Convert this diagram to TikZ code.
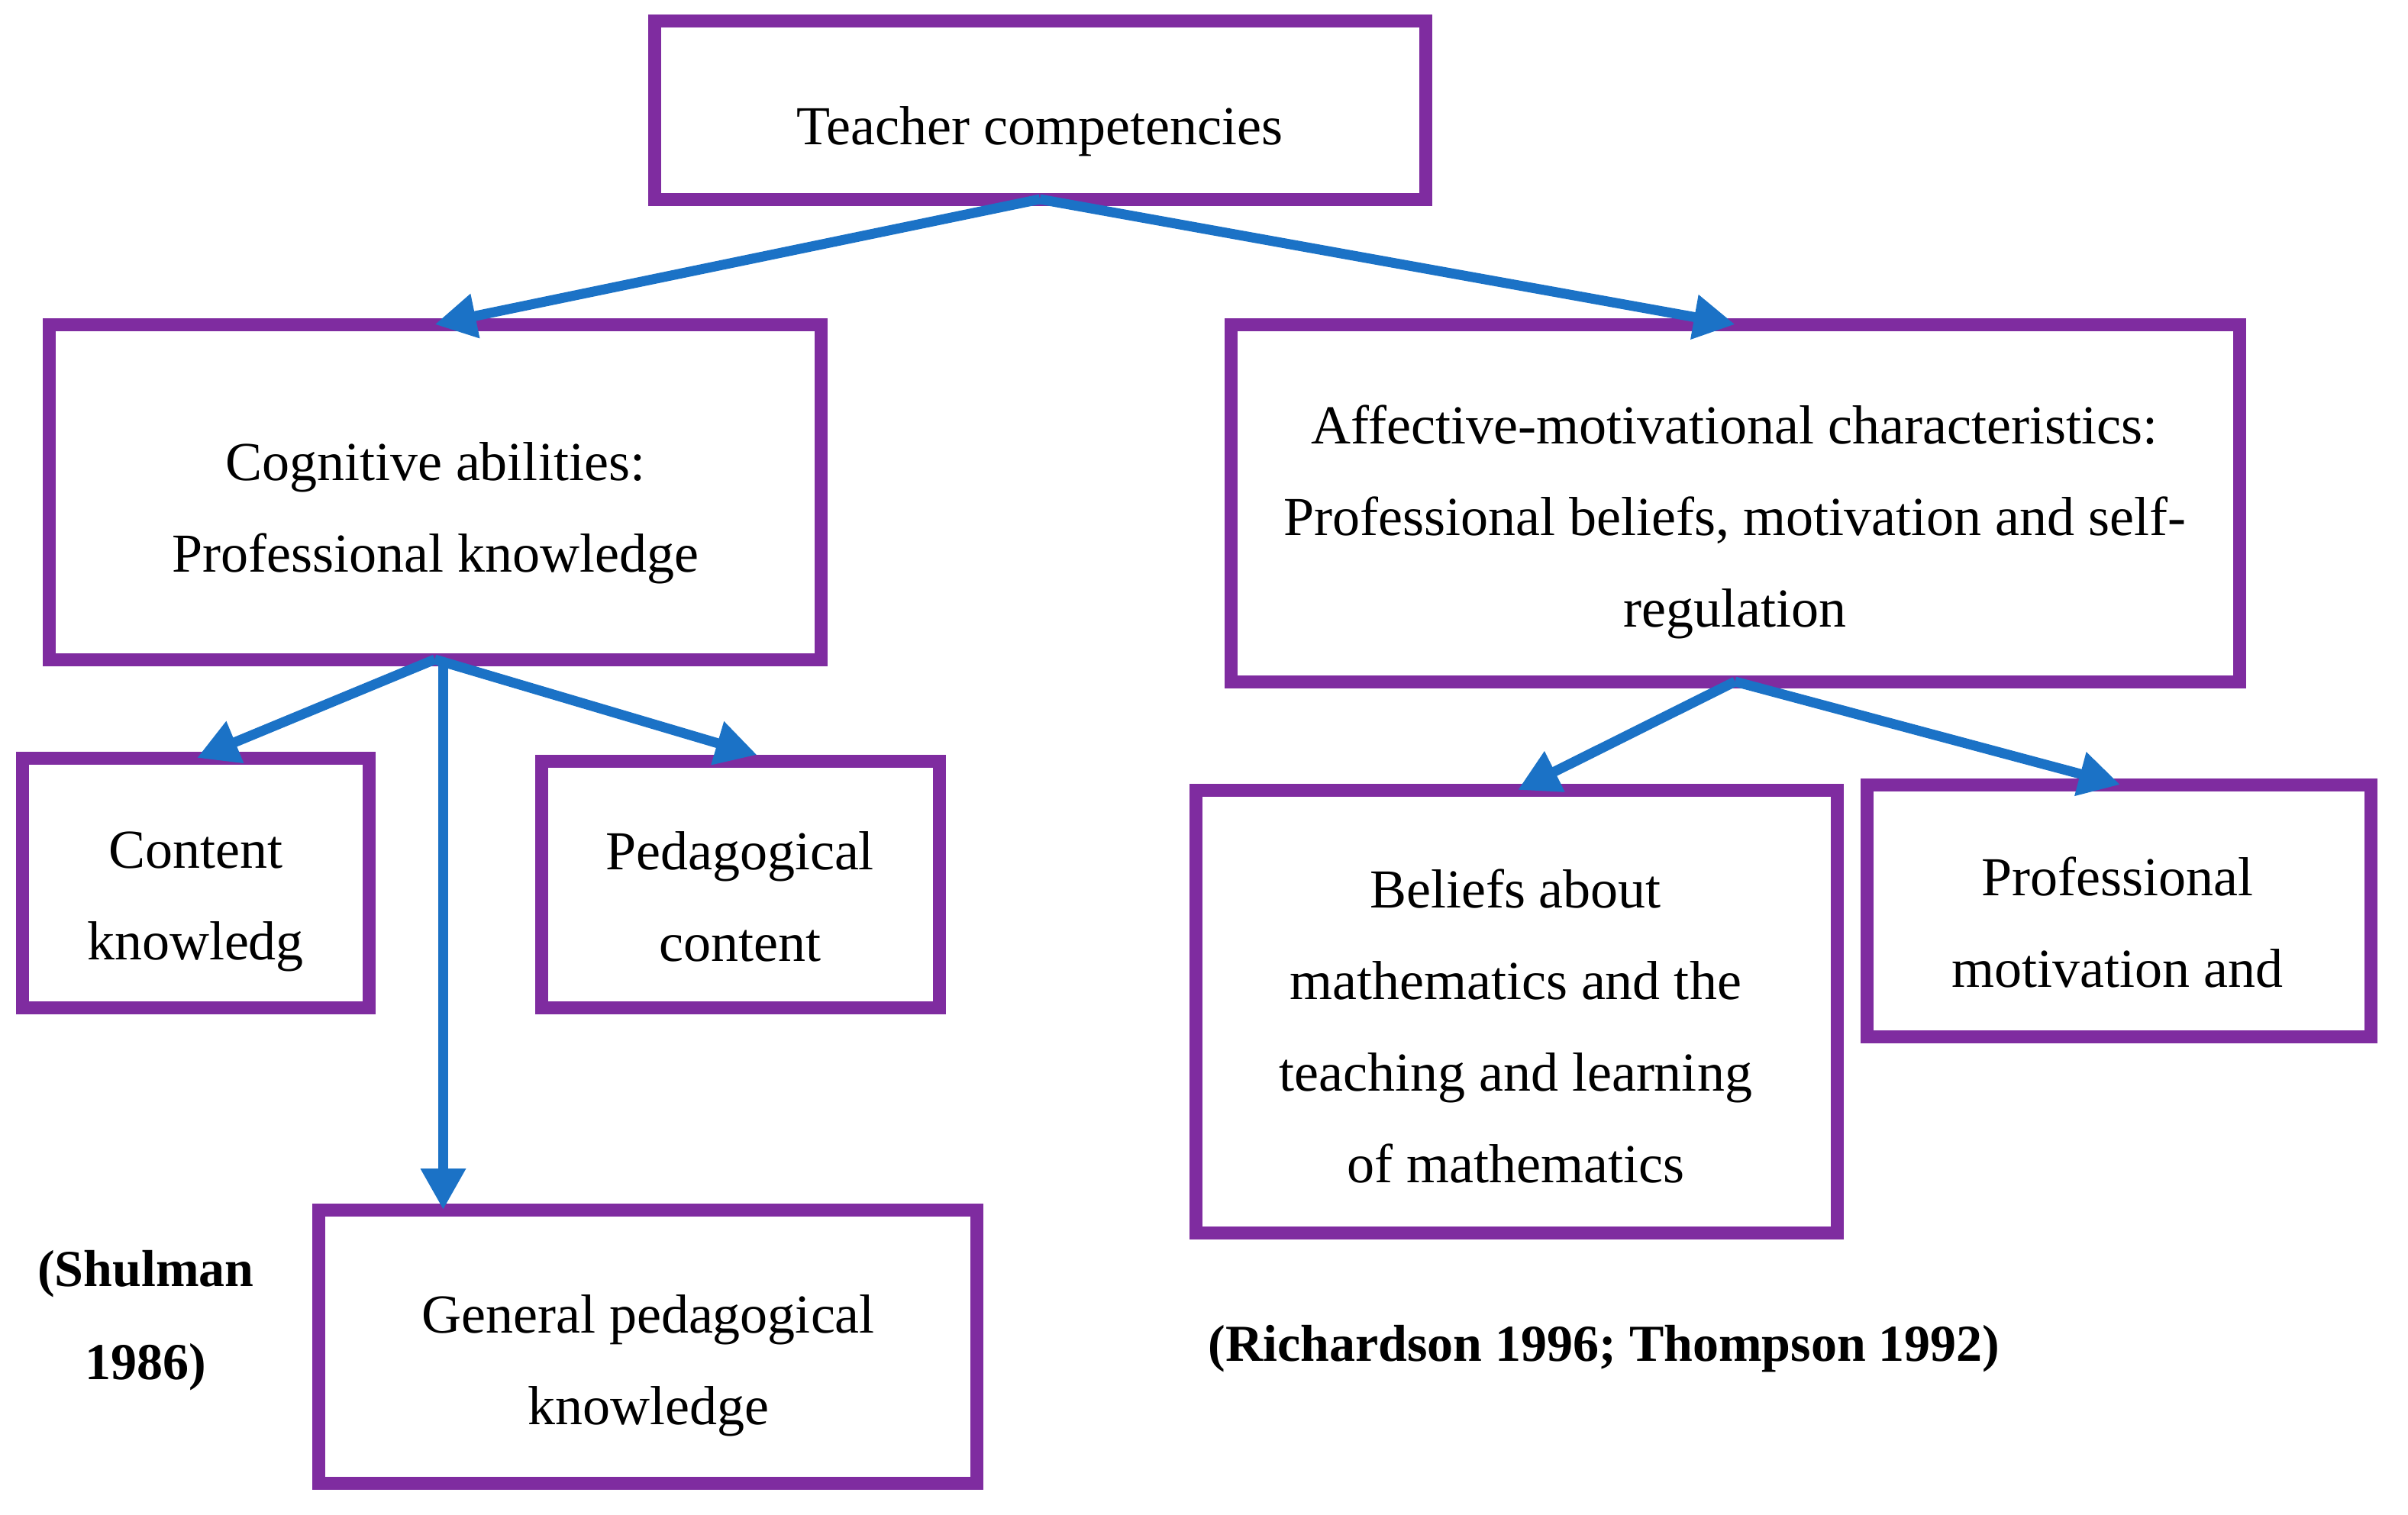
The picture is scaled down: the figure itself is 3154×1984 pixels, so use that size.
\documentclass[tikz,border=0pt]{standalone}
\usepackage{fontspec}
\setmainfont{Liberation Serif}
\usetikzlibrary{arrows.meta,calc}
\newlength\pxu
\setlength\pxu{0.25pt}
\definecolor{boxpurple}{HTML}{7F2CA0}
\definecolor{arrowblue}{HTML}{1B72C6}
\begin{document}
\begin{tikzpicture}[x=0.25pt,y=-0.25pt,
  box/.style={draw=boxpurple, line width=4.25pt, rectangle, inner sep=0pt, outer sep=0pt},
  txt/.style={align=center, inner sep=0pt, outer sep=0pt, font=\fontsize{18}{30}\selectfont},
  reftxt/.style={align=center, inner sep=0pt, outer sep=0pt, font=\bfseries\fontsize{17}{30.5}\selectfont},
  arr/.style={draw=arrowblue, line width=3.25pt, -{Triangle[length=13.5pt,width=14pt]}}]
\useasboundingbox (0,0) rectangle (3154,1984);
% boxes
\node[box, minimum width=1010\pxu, minimum height=234\pxu] (top) at (1362,144) {};
\node[box, minimum width=1011\pxu, minimum height=439\pxu] (cog) at (569.5,644.5) {};
\node[box, minimum width=1321\pxu, minimum height=468\pxu] (aff) at (2272.5,659) {};
\node[box, minimum width=454\pxu, minimum height=327\pxu] (cont) at (256,1156.5) {};
\node[box, minimum width=521\pxu, minimum height=323\pxu] (ped) at (969.5,1158.5) {};
\node[box, minimum width=862\pxu, minimum height=358\pxu] (gen) at (848,1764) {};
\node[box, minimum width=840\pxu, minimum height=580\pxu] (bel) at (1986,1325) {};
\node[box, minimum width=660\pxu, minimum height=330\pxu] (pm) at (2775,1193) {};
% texts
\node[txt] (topT) at (1362,172) {Teacher competencies};
\node[txt] (cogT) at (570,672) {Cognitive abilities:\\Professional knowledge};
\node[txt] (affT) at (2272,684) {Affective-motivational characteristics:\\Professional beliefs, motivation and self-\\regulation};
\node[txt] (contT) at (256,1181) {Content\\knowledg};
\node[txt] (pedT) at (969,1175) {Pedagogical\\content};
\node[txt] (genT) at (849,1789) {General pedagogical\\knowledge};
\node[txt] (belT) at (1985,1344) {Beliefs about\\mathematics and the\\teaching and learning\\of mathematics};
\node[txt] (pmT) at (2773.5,1208) {Professional\\motivation and};
\node[reftxt] (shul) at (191,1730) {(Shulman\\1986)};
\node[reftxt] (rich) at (2101,1767) {(Richardson 1996; Thompson 1992)};
% arrows
\draw[arr] (top.south) -- (cog.north);
\draw[arr] (top.south) -- (aff.north);
\draw[arr] (cog.south) -- ([xshift=0.5pt]cont.north);
\draw[arr] (cog.south) -- ([xshift=5.5pt,yshift=2pt]ped.north);
\draw[arr] ([xshift=2.75pt]cog.south) -- ([xshift=2.75pt]cog.south |- gen.north);
\draw[arr] (aff.south) -- ([xshift=0.5pt]bel.north);
\draw[arr] (aff.south) -- ([xshift=0.5pt]pm.north);
\end{tikzpicture}
\end{document}
